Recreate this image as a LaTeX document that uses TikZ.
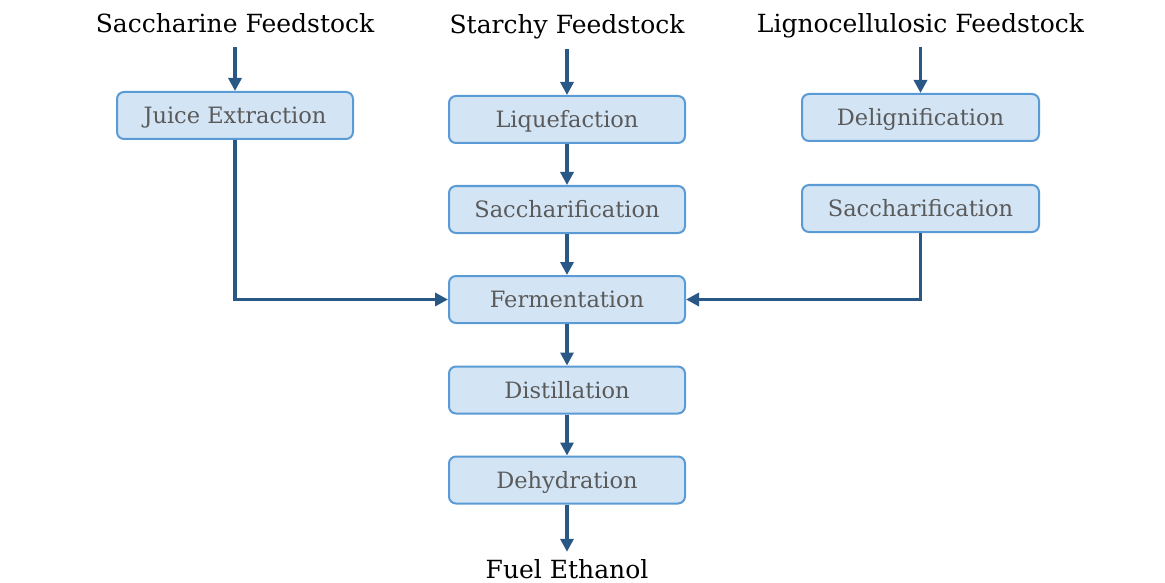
\documentclass[tikz,border=0pt]{standalone}
\usepackage{fontspec}
\setmainfont{DejaVu Serif}
\usetikzlibrary{arrows.meta,positioning}
\definecolor{boxfill}{HTML}{D3E4F5}
\definecolor{boxline}{HTML}{5B9BD5}
\definecolor{arrowc}{HTML}{2A5886}
\definecolor{boxtext}{HTML}{5A5A5A}
\tikzset{
  stepbox/.style={draw=boxline, fill=boxfill, line width=2pt, rounded corners=7pt,
    minimum width=236pt, minimum height=47pt, inner sep=0pt,
    text height=16pt, text depth=0pt, text=boxtext, font=\fontsize{22.5pt}{26pt}\selectfont},
  header/.style={inner sep=0pt, text height=19pt, text depth=5pt, text=black,
    font=\fontsize{25pt}{30pt}\selectfont},
  arr/.style={draw=arrowc, line width=3.5pt, -{Triangle[length=13pt,width=13pt]}},
}
\begin{document}
\begin{tikzpicture}[x=1pt,y=-1pt]
\useasboundingbox (0,0) rectangle (1165,583);
% headers
\node[header, anchor=base] (hs) at (235,33) {Saccharine Feedstock};
\node[header, anchor=base] (hst) at (567,34) {Starchy Feedstock};
\node[header, anchor=base] (hl) at (920.5,33) {Lignocellulosic Feedstock};
\node[header, anchor=base] (fuel) at (567,578) {Fuel Ethanol};
% boxes
\node[stepbox] (jx) at (235,115.5) {Juice Extraction};
\node[stepbox] (liq) at (567,119.5) {Liquefaction};
\node[stepbox] (sac) at (567,209.5) {Saccharification};
\node[stepbox] (fer) at (567,299.5) {Fermentation};
\node[stepbox] (dis) at (567,390) {Distillation};
\node[stepbox] (deh) at (567,480) {Dehydration};
\node[stepbox, minimum width=237pt] (del) at (920.5,117.5) {Delignification};
\node[stepbox, minimum width=237pt] (sac2) at (920.5,208.5) {Saccharification};
% connectors
\draw[arr, shorten <=9pt] (hs.south) -- (jx.north);
\draw[arr, shorten <=10pt] (hst.south) -- (liq.north);
\draw[arr, shorten <=9pt] (hl.south) -- (del.north);
\draw[arr] (liq) -- (sac);
\draw[arr] (sac) -- (fer);
\draw[arr] (fer) -- (dis);
\draw[arr] (dis) -- (deh);
\draw[arr, shorten >=7pt] (deh) -- (fuel);
\draw[arr] (jx.south) |- (fer.west);
\draw[arr] (sac2.south) |- (fer.east);
\end{tikzpicture}
\end{document}
